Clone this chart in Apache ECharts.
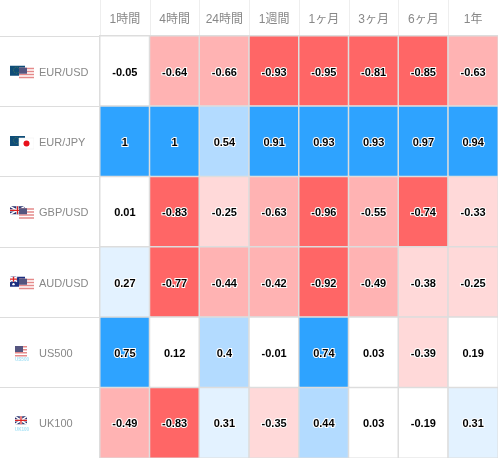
<!DOCTYPE html>
<html><head><meta charset="utf-8">
<style>html,body{margin:0;padding:0;background:#fff}#c{width:498px;height:458px}</style>
<script src="https://cdn.jsdelivr.net/npm/echarts@6/dist/echarts.min.js"></script>
</head><body><div id="c"></div>
<script>
const periods = ['1時間','4時間','24時間','1週間','1ヶ月','3ヶ月','6ヶ月','1年'];
const instruments = ['EUR/USD','EUR/JPY','GBP/USD','AUD/USD','US500','UK100'];
const eurUsd = [-0.05,-0.64,-0.66,-0.93,-0.95,-0.81,-0.85,-0.63];
const eurJpy = [1,1,0.54,0.91,0.93,0.93,0.97,0.94];
const gbpUsd = [0.01,-0.83,-0.25,-0.63,-0.96,-0.55,-0.74,-0.33];
const audUsd = [0.27,-0.77,-0.44,-0.42,-0.92,-0.49,-0.38,-0.25];
const us500 = [0.75,0.12,0.4,-0.01,0.74,0.03,-0.39,0.19];
const uk100 = [-0.49,-0.83,0.31,-0.35,0.44,0.03,-0.19,0.31];
const rows = [eurUsd,eurJpy,gbpUsd,audUsd,us500,uk100];

const data = [];
rows.forEach((r,y)=>r.forEach((v,x)=>data.push([x,y,v])));

// small flag artwork
const us = (x,y,w=15,h=11)=>{let s=`<rect x="${x}" y="${y}" width="${w}" height="${h}" fill="#fff"/>`;
  for(let i=0;i<4;i++)s+=`<rect x="${x}" y="${y+i*3}" width="${w}" height="1.5" fill="#e58a8a"/>`;
  return s+`<rect x="${x}" y="${y}" width="8" height="6" fill="#55557f"/>`;};
const eu = `<rect x="0" y="0" width="15" height="10" fill="#0f4d78"/><circle cx="6.5" cy="4.5" r="3" fill="none" stroke="#5f8a4a" stroke-width=".7" stroke-dasharray="1 1"/>`;
const jp = `<rect x="9" y="2" width="15" height="11" fill="#fff" stroke="#eee" stroke-width=".5"/><circle cx="16.5" cy="7.5" r="3" fill="#e8101a"/>`;
const ukAt = (x,y,w,h)=>`<rect x="${x}" y="${y}" width="${w}" height="${h}" fill="#27306e"/><path d="M${x} ${y}L${x+w} ${y+h}M${x+w} ${y}L${x} ${y+h}" stroke="#fff" stroke-width="1.6"/><path d="M${x+w/2} ${y}V${y+h}M${x} ${y+h/2}H${x+w}" stroke="#fff" stroke-width="2.4"/><path d="M${x+w/2} ${y}V${y+h}M${x} ${y+h/2}H${x+w}" stroke="#d22" stroke-width="1.2"/>`;
const au = `<rect x="0" y="0" width="15" height="10" fill="#1c2f80"/>${ukAt(0,0,7,5)}<circle cx="3.5" cy="7.5" r="1.2" fill="#fff"/><circle cx="11" cy="3" r=".9" fill="#fff"/><circle cx="11" cy="7.5" r=".9" fill="#fff"/>`;
const tag = t=>`<text x="12" y="14" font-size="4.6" font-family="Liberation Sans" font-weight="bold" text-anchor="middle" fill="#a8e2f5">${t}</text>`;
const flagSvg = [
  eu+us(9,2), eu+jp, ukAt(0,0,15,8)+us(9,2), au+us(9,2),
  us(5,-1,12,8)+tag('US500'),
  ukAt(5,-1,12,8)+tag('UK100')
];
const flagUri = flagSvg.map(b=>'data:image/svg+xml;charset=utf-8,'+encodeURIComponent(
  `<svg xmlns="http://www.w3.org/2000/svg" width="24" height="22" viewBox="0 -4 24 22">${b}</svg>`));
const rich = {name:{color:'#888',fontFamily:'Liberation Sans',fontSize:11,padding:[0,0,0,5]}};
flagUri.forEach((u,i)=>{rich['f'+i]={width:24,height:22,backgroundColor:{image:u}};});

const chart = echarts.init(document.getElementById('c'),null,{renderer:'canvas'});
chart.setOption({
  animation:false,
  backgroundColor:'#fff',
  grid:{left:100,right:0,top:36,bottom:0,containLabel:false},
  xAxis:{type:'category',position:'top',data:periods,
    axisLine:{show:false},
    axisTick:{show:true,length:36,lineStyle:{color:'#eeeeee',width:1}},
    splitLine:{show:false},
    axisLabel:{color:'#888',fontSize:12,margin:10,fontFamily:'Liberation Sans, Noto Sans CJK JP'}},
  yAxis:{type:'category',inverse:true,data:instruments,
    axisLine:{show:false},
    axisTick:{show:true,length:100,lineStyle:{color:'#dddddd',width:1}},
    splitLine:{show:false},
    axisLabel:{align:'left',margin:90,padding:[3,0,0,0],
      formatter:(v,i)=>`{f${i}|}{name|${v}}`,rich}},
  visualMap:{show:false,type:'piecewise',dimension:2,seriesIndex:0,
    pieces:[
      {lt:-0.7,color:'#ff6666'},
      {gte:-0.7,lt:-0.4,color:'#ffb3b3'},
      {gte:-0.4,lt:-0.2,color:'#ffd9d9'},
      {gte:-0.2,lt:0.2,color:'#ffffff'},
      {gte:0.2,lt:0.4,color:'#e3f2ff'},
      {gte:0.4,lt:0.7,color:'#b3dbff'},
      {gte:0.7,color:'#2ea3ff'}
    ]},
  series:[{type:'heatmap',data,
    itemStyle:{borderColor:'#dddddd',borderWidth:1.5},
    emphasis:{disabled:true},
    label:{show:true,offset:[0,1.5],formatter:p=>String(p.value[2]),color:'#000',fontWeight:'bold',fontSize:11,
      fontFamily:'Liberation Sans',textBorderColor:'#fff',textBorderWidth:2}}]
});
</script></body></html>
